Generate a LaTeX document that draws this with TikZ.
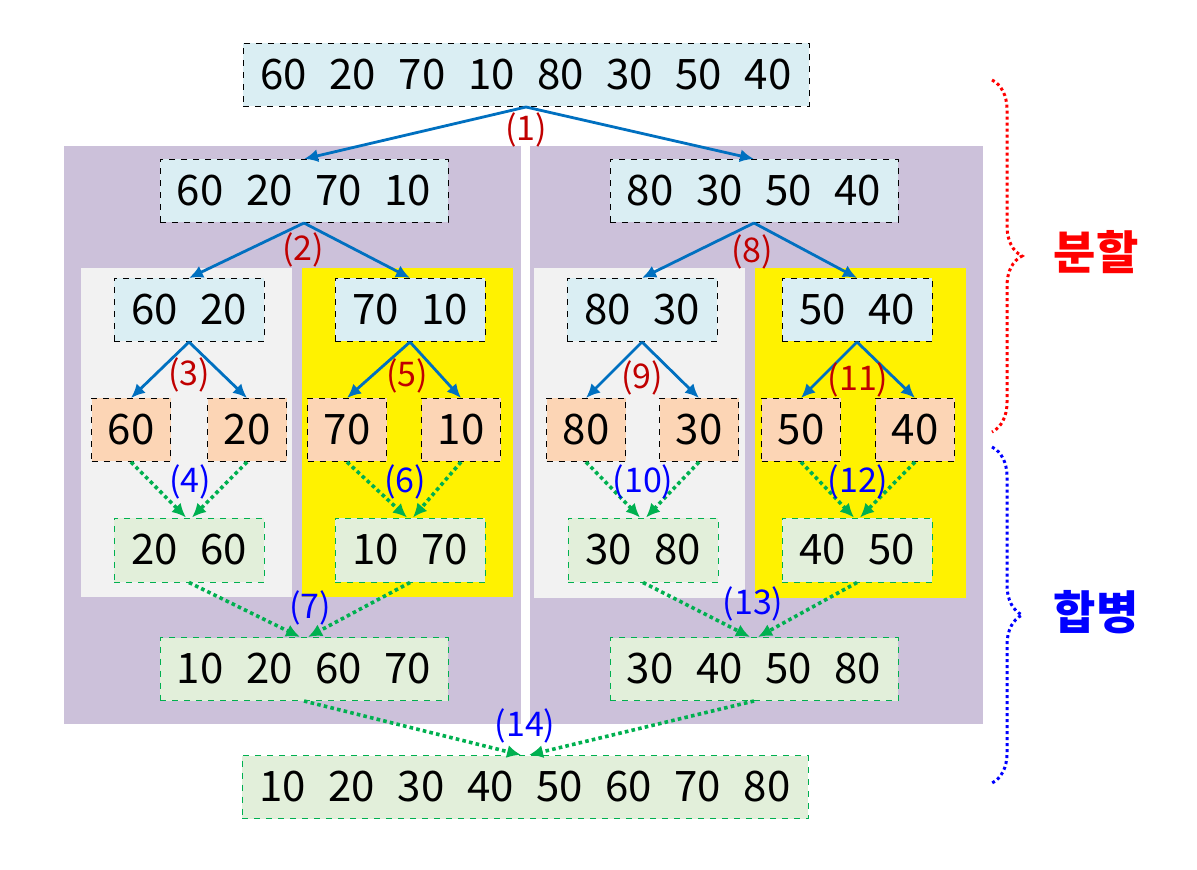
\documentclass[tikz,border=0pt]{standalone}
\usepackage{fontspec}
\setmainfont{Noto Sans CJK KR}[WordSpace=2.4]
\usetikzlibrary{arrows.meta,calc,decorations.pathreplacing}

\definecolor{boxblue}{HTML}{DAEEF3}
\definecolor{boxorange}{HTML}{FCD5B5}
\definecolor{boxgreen}{HTML}{E2EFDA}
\definecolor{panelpurple}{HTML}{CCC1DA}
\definecolor{panelgrey}{HTML}{F2F2F2}
\definecolor{arrowblue}{HTML}{0070C0}
\definecolor{arrowgreen}{HTML}{00B050}
\definecolor{labelred}{HTML}{C00000}

\begin{document}
\begin{tikzpicture}[x=0.5pt,y=-0.5pt,
  numbox/.style={draw,dashed,line width=0.5pt,inner sep=0pt,minimum height=31.5pt,font=\fontsize{21}{25}\selectfont},
  splitbox/.style={numbox,fill=boxblue},
  leafbox/.style={numbox,fill=boxorange,minimum width=39.5pt},
  mergebox/.style={numbox,draw=arrowgreen,fill=boxgreen},
  splitarrow/.style={-{Latex[length=7pt,width=6.5pt]},draw=arrowblue,line width=1.4pt},
  mergearrow/.style={-{Latex[length=7pt,width=6.5pt]},draw=arrowgreen,line width=1.8pt,dash pattern=on 1.8pt off 1.6pt},
  steplabel/.style={font=\fontsize{17}{20}\selectfont,inner sep=0pt},
  bracestyle/.style={decorate,decoration={brace,amplitude=15pt},line width=1.5pt,dash pattern=on 1.5pt off 1.5pt},
  sidelabel/.style={font=\fontsize{23}{28}\selectfont\bfseries}]
  \fill[white] (0,0) rectangle (1197,870);
  \useasboundingbox (0,0) rectangle (1197,870);
  % panels
  \fill[panelpurple] (64,146) rectangle (521,724);
  \fill[panelpurple] (530,146) rectangle (983,724);
  \fill[panelgrey] (81,268) rectangle (292,597);
  \fill[yellow] (302,268) rectangle (513,597);
  \fill[panelgrey] (534,268) rectangle (745,598);
  \fill[yellow] (755,268) rectangle (966,598);
  % split boxes
  \node[splitbox,minimum width=283pt] (all) at (526,75) {60 20 70 10 80 30 50 40};
  \node[splitbox,minimum width=144pt] (l) at (304,191) {60 20 70 10};
  \node[splitbox,minimum width=144pt] (r) at (754,191) {80 30 50 40};
  \node[splitbox,minimum width=75pt] (ll) at (189,310) {60 20};
  \node[splitbox,minimum width=75pt] (lr) at (410,310) {70 10};
  \node[splitbox,minimum width=75pt] (rl) at (642,310) {80 30};
  \node[splitbox,minimum width=75pt] (rr) at (857,310) {50 40};
  % leaves
  \node[leafbox] (a60) at (131,430) {60};
  \node[leafbox] (a20) at (247,430) {20};
  \node[leafbox] (a70) at (347,430) {70};
  \node[leafbox] (a10) at (461,430) {10};
  \node[leafbox] (a80) at (586,430) {80};
  \node[leafbox] (a30) at (699,430) {30};
  \node[leafbox] (a50) at (801,430) {50};
  \node[leafbox] (a40) at (915,430) {40};
  % merge boxes
  \node[mergebox,minimum width=75pt,minimum height=32pt] (m2060) at (189,550) {20 60};
  \node[mergebox,minimum width=75pt,minimum height=32pt] (m1070) at (410,550) {10 70};
  \node[mergebox,minimum width=75pt,minimum height=32pt] (m3080) at (643,550) {30 80};
  \node[mergebox,minimum width=75pt,minimum height=32pt] (m4050) at (857,550) {40 50};
  \node[mergebox,minimum width=144pt] (ml) at (304,669) {10 20 60 70};
  \node[mergebox,minimum width=144pt] (mr) at (754,669) {30 40 50 80};
  \node[mergebox,minimum width=283pt] (final) at (525,787) {10 20 30 40 50 60 70 80};
  % arrows
  \foreach \p/\c in {all/l,all/r,l/ll,l/lr,r/rl,r/rr,ll/a60,ll/a20,lr/a70,lr/a10,rl/a80,rl/a30,rr/a50,rr/a40}
    \draw[splitarrow] (\p.south) -- (\c.north);
  \foreach \c/\p/\s in {a60/m2060/-1.5,a20/m2060/1.5,a70/m1070/-1.5,a10/m1070/1.5,a80/m3080/-1.5,a30/m3080/1.5,a50/m4050/-1.5,a40/m4050/1.5,m2060/ml/-2,m1070/ml/2,m3080/mr/-2,m4050/mr/2,ml/final/-2,mr/final/2}
    \draw[mergearrow] (\c.south) -- ([xshift=\s pt]\p.north);
  % step labels
  \node[steplabel,text=labelred] (lab1) at (526,130) {(1)};
  \node[steplabel,text=labelred] (lab2) at (303,250) {(2)};
  \node[steplabel,text=labelred] (lab3) at (189,375) {(3)};
  \node[steplabel,text=labelred] (lab5) at (407,376) {(5)};
  \node[steplabel,text=labelred] (lab8) at (752,252) {(8)};
  \node[steplabel,text=labelred] (lab9) at (642,378) {(9)};
  \node[steplabel,text=labelred] (lab11) at (858,380) {(11)};
  \node[steplabel,text=blue] (lab4) at (190,482) {(4)};
  \node[steplabel,text=blue] (lab6) at (405,482) {(6)};
  \node[steplabel,text=blue] (lab10) at (643,482) {(10)};
  \node[steplabel,text=blue] (lab12) at (858,482) {(12)};
  \node[steplabel,text=blue] (lab7) at (310,608) {(7)};
  \node[steplabel,text=blue] (lab13) at (753,604) {(13)};
  \node[steplabel,text=blue] (lab14) at (525,726) {(14)};
  % braces
  \coordinate (splittop) at (992,80);
  \coordinate (splitbot) at (992,432);
  \coordinate (mergetop) at (992,447);
  \coordinate (mergebot) at (992,783);
  \draw[bracestyle,draw=red] (splittop) -- (splitbot);
  \draw[bracestyle,draw=blue] (mergetop) -- (mergebot);
  \node[sidelabel,text=red] (split) at (1096,252) {분할};
  \node[sidelabel,text=blue] (merge) at (1096,612) {합병};
\end{tikzpicture}
\end{document}
